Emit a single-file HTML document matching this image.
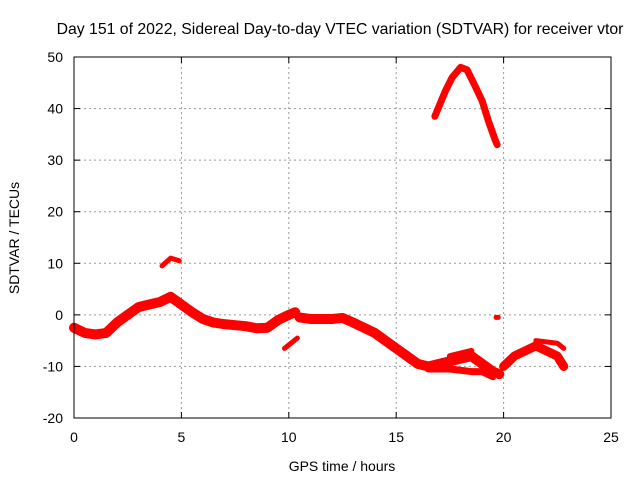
<!DOCTYPE html>
<html><head><meta charset="utf-8"><style>
body{margin:0;background:#fff}
svg text{font-family:"Liberation Sans",sans-serif;font-size:14px;fill:#000}
</style></head><body>
<svg width="640" height="480" id="c">
<text x="340" y="34" text-anchor="middle" style="font-size:15.8px">Day 151 of 2022, Sidereal Day-to-day VTEC variation (SDTVAR) for receiver vtor</text>
<text x="342" y="471" text-anchor="middle">GPS time / hours</text>
<text transform="translate(19,238) rotate(-90)" text-anchor="middle">SDTVAR / TECUs</text>
<g id="grid"></g><g id="marks"></g>
<rect x="74" y="57" width="537" height="361" fill="none" stroke="#000" stroke-width="1"/>
</svg>
<script>
const xTicks=[0,5,10,15,20,25];
const yTicks=[-20,-10,0,10,20,30,40,50];
const mainA=[[0,-2.5],[0.5,-3.5],[1,-3.8],[1.5,-3.5],[2,-1.5],[2.5,0],[3,1.5],[3.5,2],[4,2.5],[4.5,3.5],[5,2],[5.5,0.5],[6,-0.8],[6.5,-1.5],[7,-1.8],[7.5,-2],[8,-2.2],[8.5,-2.6],[9,-2.5],[9.5,-1],[10,0],[10.3,0.5]];
const mainB=[[10.5,-0.5],[11,-0.8],[12,-0.8],[12.5,-0.6],[13,-1.5],[13.5,-2.5],[14,-3.5],[14.5,-5],[15,-6.5],[15.5,-8],[16,-9.5],[16.5,-10],[17,-9.5],[17.5,-9],[18,-8.5],[18.5,-8],[19,-9.5],[19.5,-11],[19.8,-11.5]];
const lowBand=[[16.5,-10.5],[17.5,-10.5],[18.5,-11],[19,-11],[19.5,-12]];
const upBand=[[17.5,-8],[18.5,-7]];
const lateA=[[20,-10],[20.5,-8],[21,-7],[21.5,-6],[22,-7],[22.5,-8],[22.8,-10]];
const lateB=[[21.5,-5],[22.5,-5.5],[22.8,-6.5]];
const blipA=[[4.1,9.5],[4.5,11],[4.9,10.5]];
const blipB=[[9.8,-6.5],[10.4,-4.5]];
const blipC=[[19.65,-0.5],[19.75,-0.5]];
const arc=[[16.8,38.5],[17,40.5],[17.3,43.5],[17.6,46],[18,48],[18.3,47.5],[18.6,45],[19,41.5],[19.3,37.5],[19.6,34],[19.7,33]];
const X=v=>74+(v-0)*(537/25);
const Y=v=>418-(v+20)*(361/70);
const NS="http://www.w3.org/2000/svg";
const g=document.getElementById('grid'),m=document.getElementById('marks');
function el(t,a,p){const e=document.createElementNS(NS,t);for(const k in a)e.setAttribute(k,a[k]);p.appendChild(e);return e;}
xTicks.forEach(t=>{
 if(t>0&&t<25){const l=el('line',{x1:X(t),x2:X(t),y1:57,y2:418,stroke:'#999','stroke-dasharray':'2,3'},g);
 
 }
 el('line',{x1:X(t),x2:X(t),y1:418,y2:412,stroke:'#000'},g);
 el('line',{x1:X(t),x2:X(t),y1:57,y2:63,stroke:'#000'},g);
 const s=el('text',{x:X(t),y:442,'text-anchor':'middle'},g);s.textContent=t;
 
 
});
yTicks.forEach(t=>{
 if(t>-20&&t<50){const l=el('line',{x1:74,x2:611,y1:Y(t),y2:Y(t),stroke:'#999','stroke-dasharray':'2,3'},g);
 
 }
 el('line',{x1:74,x2:80,y1:Y(t),y2:Y(t),stroke:'#000'},g);
 el('line',{x1:611,x2:605,y1:Y(t),y2:Y(t),stroke:'#000'},g);
 const s=el('text',{x:63,y:Y(t)+5,'text-anchor':'end'},g);s.textContent=t;
 
 
});
const series=[[mainA,10,'main-band-a'],[mainB,10,'main-band-b'],[lowBand,7,'low-band'],[upBand,6,'upper-band'],[lateA,9,'late-band-a'],[lateB,5,'late-band-b'],[blipA,5,'blip-4h'],[blipB,5,'blip-10h'],[blipC,5,'blip-19h'],[arc,7,'arc-peak']];
series.forEach(([d,w,n])=>{
 const p=el('polyline',{points:d.map(q=>X(q[0])+','+Y(q[1])).join(' '),fill:'none',stroke:'#f00','stroke-width':w,'stroke-linejoin':'round','stroke-linecap':'round'},m);
 
 
});
</script>
</body></html>
